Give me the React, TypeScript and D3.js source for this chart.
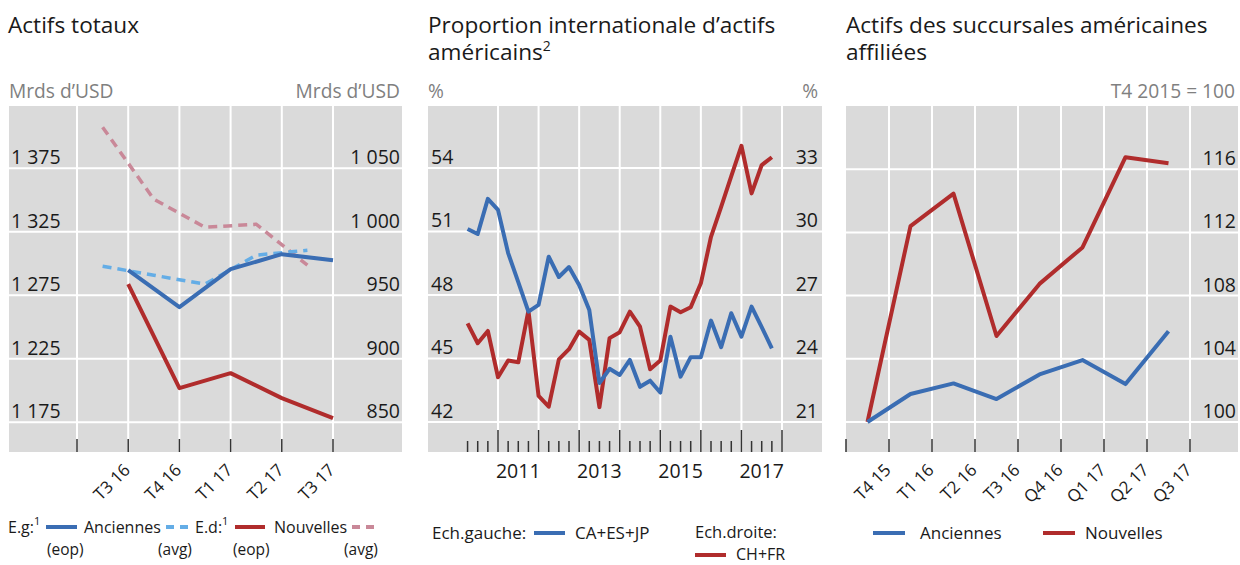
import React from "react";
import * as d3 from "d3";

// ---------- Panel 1: Actifs totaux ----------
const p1Quarters = ["T3 16", "T4 16", "T1 17", "T2 17", "T3 17"];
const p1AnciennesEop = [1294.7, 1265.6, 1295.5, 1307.3, 1302.6];
const p1AnciennesAvg = [1297.8, 1290.7, 1283.7, 1306.5, 1310.4];
const p1NouvellesEop = [958.7, 876.8, 888.6, 868.9, 853.1];
const p1NouvellesAvg = [1082.3, 1025.6, 1003.5, 1005.9, 973.6];
const p1LeftTicks = [1175, 1225, 1275, 1325, 1375];
const p1RightTicks = [850, 900, 950, 1000, 1050];

// ---------- Panel 2: Proportion internationale ----------
const p2Quarters = [
  "2010Q2", "2010Q3", "2010Q4",
  "2011Q1", "2011Q2", "2011Q3", "2011Q4",
  "2012Q1", "2012Q2", "2012Q3", "2012Q4",
  "2013Q1", "2013Q2", "2013Q3", "2013Q4",
  "2014Q1", "2014Q2", "2014Q3", "2014Q4",
  "2015Q1", "2015Q2", "2015Q3", "2015Q4",
  "2016Q1", "2016Q2", "2016Q3", "2016Q4",
  "2017Q1", "2017Q2", "2017Q3", "2017Q4",
];
const p2CaEsJp = [
  51.12, 50.88, 52.54, 52.02, 49.98, 48.61, 47.21, 47.53, 49.81, 48.85, 49.32,
  48.47, 47.29, 43.84, 44.51, 44.22, 44.93, 43.66, 43.95, 43.39, 46.03, 44.14,
  45.06, 45.06, 46.79, 45.53, 47.14, 46.03, 47.45, 46.48, 45.48,
];
const p2ChFr = [
  25.66, 24.72, 25.3, 23.11, 23.9, 23.82, 26.26, 22.23, 21.72, 23.96, 24.44,
  25.27, 24.88, 21.7, 24.96, 25.24, 26.21, 25.5, 23.49, 23.9, 26.45, 26.18,
  26.42, 27.55, 29.75, 31.16, 32.62, 34.05, 31.8, 33.14, 33.51,
];
const p2LeftTicks = [42, 45, 48, 51, 54];
const p2RightTicks = [21, 24, 27, 30, 33];
const p2YearLabels = [2011, 2013, 2015, 2017];
const p2MajorYears = [2011, 2012, 2013, 2014, 2015, 2016, 2017, 2018];

// ---------- Panel 3: Actifs des succursales ----------
const p3Quarters = ["T4 15", "T1 16", "T2 16", "T3 16", "Q4 16", "Q1 17", "Q2 17", "Q3 17"];
const p3Anciennes = [100, 101.77, 102.44, 101.45, 103.01, 103.92, 102.4, 105.75];
const p3Nouvelles = [100, 112.4, 114.45, 105.44, 108.74, 111.05, 116.76, 116.38];
const p3RightTicks = [100, 104, 108, 112, 116];

// ---------- Styles ----------
const FONT = "'Open Sans', 'Noto Sans', sans-serif";
const BG = "#dadada";
const BLUE = "#3a6db3";
const RED = "#b02c2c";
const LBLUE = "#64ade6";
const PINK = "#c98898";
const GREY = "#808080";
const INK = "#1a1a1a";
const TOP = 106;
const BOTTOM = 452;
const TICKFS = 19.5;
const TITLEFS = 22.6;
const UNITFS = 19.2;
const XLABFS = 17;

function qToYear(q: string) {
  const y = +q.slice(0, 4);
  const n = +q.slice(5);
  return y + (n - 1) / 4;
}

function HGrid({ x0, x1, ys }: { x0: number; x1: number; ys: number[] }) {
  return (
    <g>
      {ys.map((y, i) => (
        <line key={i} x1={x0} x2={x1} y1={y} y2={y} stroke="#fff" strokeWidth={2} />
      ))}
    </g>
  );
}

function VGrid({ xs }: { xs: number[] }) {
  return (
    <g>
      {xs.map((x, i) => (
        <line key={i} x1={x} x2={x} y1={TOP} y2={BOTTOM} stroke="#fff" strokeWidth={2} />
      ))}
    </g>
  );
}

const fmtThousands = (t: number) => d3.format(",")(t).replace(",", " ");

function Panel1() {
  const L = 9, R = 402;
  const x = d3.scaleLinear().domain([-1, 4]).range([77, 333]);
  const yL = d3.scaleLinear().domain([1151.5, 1424]).range([BOTTOM, TOP]);
  const yR = d3.scaleLinear().domain([826.5, 1099]).range([BOTTOM, TOP]);
  const gridIdx = [-1, 0, 1, 2, 3, 4];
  const lineL = d3.line<[number, number]>().x((d) => x(d[0])).y((d) => yL(d[1]));
  const lineR = d3.line<[number, number]>().x((d) => x(d[0])).y((d) => yR(d[1]));
  const eopIdx = p1Quarters.map((_, i) => i);
  const avgIdx = p1Quarters.map((_, i) => i - 0.5);
  return (
    <g>
      <text x={8} y={33} fontSize={TITLEFS} fill={INK}>Actifs totaux</text>
      <text x={9} y={98} fontSize={UNITFS} fill={GREY}>Mrds d’USD</text>
      <text x={400} y={98} fontSize={UNITFS} fill={GREY} textAnchor="end">Mrds d’USD</text>
      <rect x={L} y={TOP} width={R - L} height={BOTTOM - TOP} fill={BG} />
      <HGrid x0={L} x1={R} ys={p1LeftTicks.map((t) => yL(t))} />
      <VGrid xs={gridIdx.map((i) => x(i))} />
      {p1LeftTicks.map((t, i) => (
        <text key={"l" + i} x={11} y={yL(t) - 4} fontSize={TICKFS} fill={INK}>
          {fmtThousands(t)}
        </text>
      ))}
      {p1RightTicks.map((t, i) => (
        <text key={"r" + i} x={400} y={yR(t) - 4} fontSize={TICKFS} fill={INK} textAnchor="end">
          {fmtThousands(t)}
        </text>
      ))}
      {gridIdx.map((i) => (
        <line key={"t" + i} x1={x(i)} x2={x(i)} y1={439} y2={BOTTOM} stroke="#333" strokeWidth={1.5} />
      ))}
      <path d={lineR(avgIdx.map((i, k) => [i, p1NouvellesAvg[k]]))!} fill="none" stroke={PINK} strokeWidth={3.5} strokeDasharray="9,6" />
      <path d={lineL(avgIdx.map((i, k) => [i, p1AnciennesAvg[k]]))!} fill="none" stroke={LBLUE} strokeWidth={3.5} strokeDasharray="9,6" />
      <path d={lineL(eopIdx.map((i, k) => [i, p1AnciennesEop[k]]))!} fill="none" stroke={BLUE} strokeWidth={4} strokeLinejoin="round" />
      <path d={lineR(eopIdx.map((i, k) => [i, p1NouvellesEop[k]]))!} fill="none" stroke={RED} strokeWidth={4} strokeLinejoin="round" />
      {p1Quarters.map((q, i) => (
        <text key={"x" + i} transform={`translate(${x(i) + 3},${471}) rotate(-45)`} fontSize={XLABFS} fill={INK} textAnchor="end">
          {q}
        </text>
      ))}
      {/* legend */}
      <g fontSize={16} fill={INK}>
        <text x={8} y={533}>E.g:<tspan fontSize={11} dy={-8}>1</tspan></text>
        <line x1={46} x2={77} y1={527} y2={527} stroke={BLUE} strokeWidth={4} />
        <text x={84} y={533}>Anciennes</text>
        <line x1={162} x2={194} y1={527} y2={527} stroke={LBLUE} strokeWidth={4} strokeDasharray="8,6" strokeDashoffset={-4} />
        <text x={195} y={533}>E.d:<tspan fontSize={11} dy={-8}>1</tspan></text>
        <line x1={235} x2={265} y1={527} y2={527} stroke={RED} strokeWidth={4} />
        <text x={274} y={533}>Nouvelles</text>
        <line x1={352} x2={380} y1={527} y2={527} stroke={PINK} strokeWidth={4} strokeDasharray="8,6" />
        <text x={47} y={555} fontSize={15.5}>(eop)</text>
        <text x={158} y={555} fontSize={15.5}>(avg)</text>
        <text x={233} y={555} fontSize={15.5}>(eop)</text>
        <text x={344} y={555} fontSize={15.5}>(avg)</text>
      </g>
    </g>
  );
}

function Panel2() {
  const L = 428, R = 822;
  const x = d3.scaleLinear().domain([2011, 2018]).range([498, 782]);
  const yL = d3.scaleLinear().domain([40.58, 56.93]).range([BOTTOM, TOP]);
  const yR = d3.scaleLinear().domain([19.58, 35.93]).range([BOTTOM, TOP]);
  const dates = p2Quarters.map(qToYear);
  const lineL = d3.line<number>().x((_, i) => x(dates[i])).y((d) => yL(d));
  const lineR = d3.line<number>().x((_, i) => x(dates[i])).y((d) => yR(d));
  const minor = dates.filter((d) => Math.abs(d - Math.round(d)) > 1e-6);
  return (
    <g>
      <text x={428} y={33} fontSize={TITLEFS} fill={INK}>Proportion internationale d’actifs</text>
      <text x={428} y={60} fontSize={TITLEFS} fill={INK}>américains<tspan fontSize={14} dy={-9}>2</tspan></text>
      <text x={428} y={98} fontSize={UNITFS} fill={GREY}>%</text>
      <text x={818} y={98} fontSize={UNITFS} fill={GREY} textAnchor="end">%</text>
      <rect x={L} y={TOP} width={R - L} height={BOTTOM - TOP} fill={BG} />
      <HGrid x0={L} x1={R} ys={p2LeftTicks.map((t) => yL(t))} />
      <VGrid xs={p2MajorYears.map((t) => x(t))} />
      {p2LeftTicks.map((t, i) => (
        <text key={"l" + i} x={431} y={yL(t) - 4} fontSize={TICKFS} fill={INK}>{t}</text>
      ))}
      {p2RightTicks.map((t, i) => (
        <text key={"r" + i} x={818} y={yR(t) - 4} fontSize={TICKFS} fill={INK} textAnchor="end">{t}</text>
      ))}
      {p2MajorYears.map((t, i) => (
        <line key={"M" + i} x1={x(t)} x2={x(t)} y1={430} y2={BOTTOM} stroke="#333" strokeWidth={1.5} />
      ))}
      {minor.map((t, i) => (
        <line key={"m" + i} x1={x(t)} x2={x(t)} y1={441} y2={BOTTOM} stroke="#333" strokeWidth={1.5} />
      ))}
      <path d={lineR(p2ChFr)!} fill="none" stroke={RED} strokeWidth={4} strokeLinejoin="round" />
      <path d={lineL(p2CaEsJp)!} fill="none" stroke={BLUE} strokeWidth={4} strokeLinejoin="round" />
      {p2YearLabels.map((t, i) => (
        <text key={"y" + i} x={x(t + 0.5)} y={478} fontSize={19.5} fill={INK} textAnchor="middle">{t}</text>
      ))}
      <g fontSize={17} fill={INK}>
        <text x={432} y={539}>Ech.gauche:</text>
        <line x1={534} x2={565} y1={533} y2={533} stroke={BLUE} strokeWidth={4} />
        <text x={575} y={539}>CA+ES+JP</text>
        <text x={695} y={538} fontSize={16.5}>Ech.droite:</text>
        <line x1={695} x2={726} y1={555} y2={555} stroke={RED} strokeWidth={4} />
        <text x={736} y={560} fontSize={16}>CH+FR</text>
      </g>
    </g>
  );
}

function Panel3() {
  const L = 846, R = 1238;
  const xb = d3.scaleBand<string>().domain(p3Quarters).range([846, 1190]).padding(0);
  const cx = (q: string) => (xb(q) as number) + xb.bandwidth() / 2;
  const y = d3.scaleLinear().domain([98.1, 120]).range([BOTTOM, TOP]);
  const line = d3.line<number>().x((_, i) => cx(p3Quarters[i])).y((d) => y(d));
  const bounds = p3Quarters.map((q) => xb(q) as number).concat([xb.range()[1]]);
  return (
    <g>
      <text x={846} y={33} fontSize={TITLEFS} fill={INK}>Actifs des succursales américaines</text>
      <text x={846} y={60} fontSize={TITLEFS} fill={INK}>affiliées</text>
      <text x={1235} y={98} fontSize={UNITFS} fill={GREY} textAnchor="end">T4 2015 = 100</text>
      <rect x={L} y={TOP} width={R - L} height={BOTTOM - TOP} fill={BG} />
      <HGrid x0={L} x1={R} ys={p3RightTicks.map((t) => y(t))} />
      <VGrid xs={bounds.slice(1)} />
      {p3RightTicks.map((t, i) => (
        <text key={"r" + i} x={1236} y={y(t) - 4} fontSize={TICKFS} fill={INK} textAnchor="end">{t}</text>
      ))}
      {bounds.map((b, i) => (
        <line key={"t" + i} x1={b} x2={b} y1={439} y2={BOTTOM} stroke="#333" strokeWidth={1.5} />
      ))}
      <path d={line(p3Nouvelles)!} fill="none" stroke={RED} strokeWidth={4} strokeLinejoin="round" />
      <path d={line(p3Anciennes)!} fill="none" stroke={BLUE} strokeWidth={4} strokeLinejoin="round" />
      {p3Quarters.map((q, i) => (
        <text key={"x" + i} transform={`translate(${bounds[i + 1] + 3},${471}) rotate(-45)`} fontSize={XLABFS} fill={INK} textAnchor="end">
          {q}
        </text>
      ))}
      <g fontSize={17} fill={INK}>
        <line x1={873} x2={905} y1={533} y2={533} stroke={BLUE} strokeWidth={4} />
        <text x={920} y={539}>Anciennes</text>
        <line x1={1043} x2={1075} y1={533} y2={533} stroke={RED} strokeWidth={4} />
        <text x={1085} y={539}>Nouvelles</text>
      </g>
    </g>
  );
}

export default function App() {
  return (
    <svg
      width={1240}
      height={565}
      viewBox="0 0 1240 565"
      style={{ position: "absolute", left: 0, top: 0, background: "#fff" }}
      fontFamily={FONT}
    >
      <Panel1 />
      <Panel2 />
      <Panel3 />
    </svg>
  );
}
